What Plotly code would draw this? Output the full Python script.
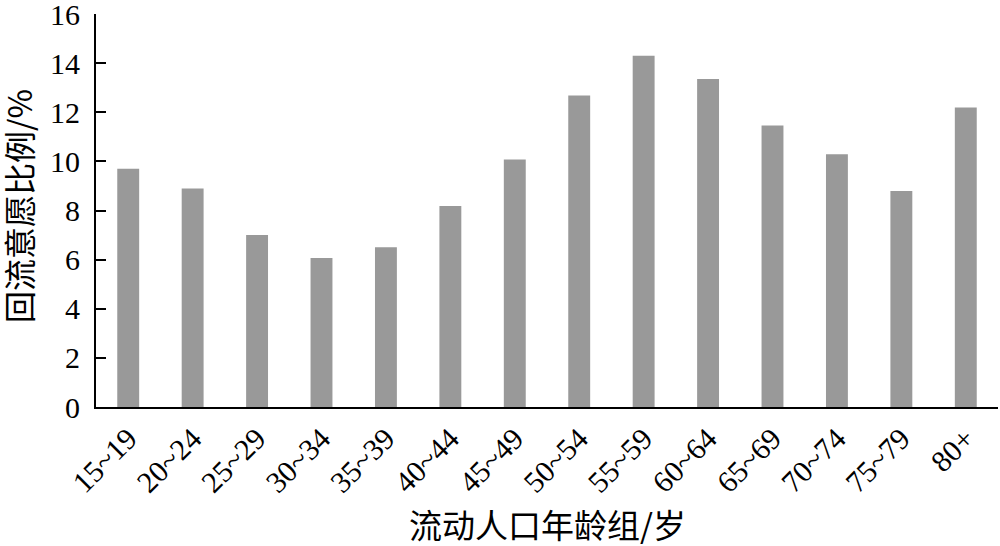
import plotly.graph_objects as go

categories = ["15~19", "20~24", "25~29", "30~34", "35~39", "40~44", "45~49",
              "50~54", "55~59", "60~64", "65~69", "70~74", "75~79", "80+"]
values = [9.7, 8.9, 7.0, 6.07, 6.5, 8.18, 10.08, 12.68, 14.3, 13.35, 11.46, 10.29, 8.79, 12.19]

y_ticks = [0, 2, 4, 6, 8, 10, 12, 14, 16]
x_title = "流动人口年龄组/岁"
y_title = "回流意愿比例/%"

FONT = "Liberation Serif, Times New Roman, serif"
CJK = "Noto Sans CJK SC, sans-serif"

fig = go.Figure(go.Bar(
    x=categories, y=values,
    marker=dict(color="#999999", line=dict(width=0)),
    width=0.34,
))

fig.update_layout(
    width=1000, height=546,
    margin=dict(l=96, r=2, t=14, b=139),
    paper_bgcolor="white", plot_bgcolor="white",
    font=dict(family=FONT, color="black"),
    showlegend=False,
    xaxis=dict(
        range=[-0.5, 13.5], automargin=False,
        showline=True, linecolor="black", linewidth=2,
        ticks="", tickangle=-45,
        tickfont=dict(size=30, family=FONT),
        ticklabeloverflow="allow",
    ),
    yaxis=dict(
        range=[0, 16], automargin=False,
        tickvals=y_ticks,
        showline=True, linecolor="black", linewidth=2,
        ticks="inside", ticklen=10, tickwidth=2, tickcolor="black",
        showgrid=False, zeroline=False,
        tickfont=dict(size=30, family=FONT),
        ticklabeloverflow="allow", ticklabelstandoff=8,
    ),
    annotations=[
        dict(
            text=y_title, xref="paper", yref="paper", x=-0.087, y=0.51,
            textangle=-90, showarrow=False,
            font=dict(size=32, family=CJK, color="black"),
            xanchor="center", yanchor="middle",
        ),
        dict(
            text=x_title, xref="paper", yref="paper", x=0.5, y=-0.297,
            showarrow=False,
            font=dict(size=33, family=CJK, color="black"),
            xanchor="center", yanchor="middle",
        ),
    ],
)

fig.write_html(
    "out.html",
    config={"displayModeBar": False},
    post_script="document.body.style.margin='0';document.body.style.overflow='hidden';",
)
